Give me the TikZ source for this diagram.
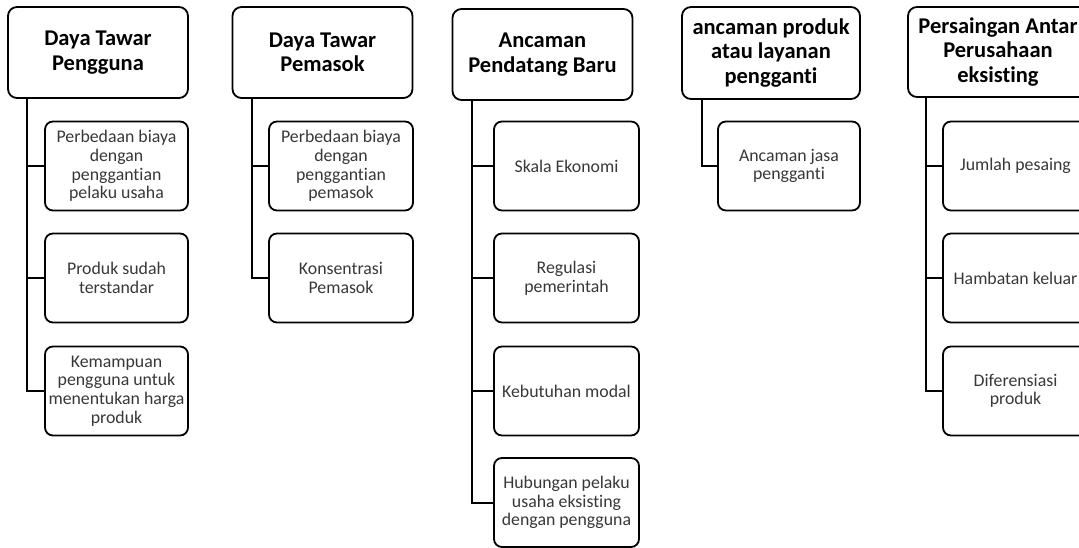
\documentclass[tikz,border=0pt]{standalone}
\usepackage{fontspec}
\setmainfont[Ligatures={NoCommon}]{Carlito}
\begin{document}
\begin{tikzpicture}[x=1pt,y=-1pt,
  hbox/.style={draw=black, rounded corners=9pt, line width=1.8pt, minimum width=180pt, minimum height=91pt, align=center, inner sep=0pt, text=black, font=\fontsize{22.5pt}{24.5pt}\selectfont\bfseries},
  cbox/.style={draw=black, rounded corners=8pt, line width=1.8pt, minimum width=144pt, minimum height=89pt, align=center, inner sep=0pt, text=black!78, font=\fontsize{17.8pt}{18.6pt}\selectfont},
  link/.style={draw=black, line width=2pt}]
\useasboundingbox (0,0) rectangle (1079,547);
\clip (0,0) rectangle (1079,547);
\fill[white] (0,0) rectangle (1079,547);
% column 1
\node[hbox] (h1) at (98,52.5) {Daya Tawar\\Pengguna};
\node[cbox, minimum width=143pt] (c11) at (116.5,166) {Perbedaan biaya\\dengan\\penggantian\\pelaku usaha};
\node[cbox, minimum width=143pt] (c12) at (116.5,278) {Produk sudah\\terstandar};
\node[cbox, minimum width=143pt] (c13) at (116.5,391) {Kemampuan\\pengguna untuk\\menentukan harga\\produk};
\coordinate (t1) at (27,98);
\draw[link] (t1) |- (c13.west);
\draw[link] (t1) |- (c11.west);
\draw[link] (t1) |- (c12.west);
% column 2
\node[hbox] (h2) at (322.5,52.5) {Daya Tawar\\Pemasok};
\node[cbox] (c21) at (341,166) {Perbedaan biaya\\dengan\\penggantian\\pemasok};
\node[cbox] (c22) at (341,278) {Konsentrasi\\Pemasok};
\coordinate (t2) at (252,98);
\draw[link] (t2) |- (c22.west);
\draw[link] (t2) |- (c21.west);
% column 3
\node[hbox] (h3) at (542.5,54.5) {Ancaman\\Pendatang Baru};
\node[cbox, minimum width=145pt] (c31) at (566.5,166) {Skala Ekonomi};
\node[cbox, minimum width=145pt] (c32) at (566.5,278) {Regulasi\\pemerintah};
\node[cbox, minimum width=145pt] (c33) at (566.5,391) {Kebutuhan modal};
\node[cbox, minimum width=145pt] (c34) at (566.5,502.5) {Hubungan pelaku\\usaha eksisting\\dengan pengguna};
\coordinate (t3) at (472,100);
\draw[link] (t3) |- (c34.west);
\draw[link] (t3) |- (c31.west);
\draw[link] (t3) |- (c32.west);
\draw[link] (t3) |- (c33.west);
% column 4
\node[hbox, minimum width=178pt, minimum height=92pt] (h4) at (771,53) {ancaman produk\\atau layanan\\pengganti};
\node[cbox, minimum width=142pt] (c41) at (789,166) {Ancaman jasa\\pengganti};
\coordinate (t4) at (702,99);
\draw[link] (t4) |- (c41.west);
% column 5
\node[hbox, minimum height=90pt] (h5) at (998,52) {Persaingan Antar\\Perusahaan\\eksisting};
\node[cbox, minimum width=145pt] (c51) at (1015.5,166) {Jumlah pesaing};
\node[cbox, minimum width=145pt] (c52) at (1015.5,278) {Hambatan keluar};
\node[cbox, minimum width=145pt] (c53) at (1015.5,391) {Diferensiasi\\produk};
\coordinate (t5) at (926,97);
\draw[link] (t5) |- (c53.west);
\draw[link] (t5) |- (c51.west);
\draw[link] (t5) |- (c52.west);
\end{tikzpicture}
\end{document}
